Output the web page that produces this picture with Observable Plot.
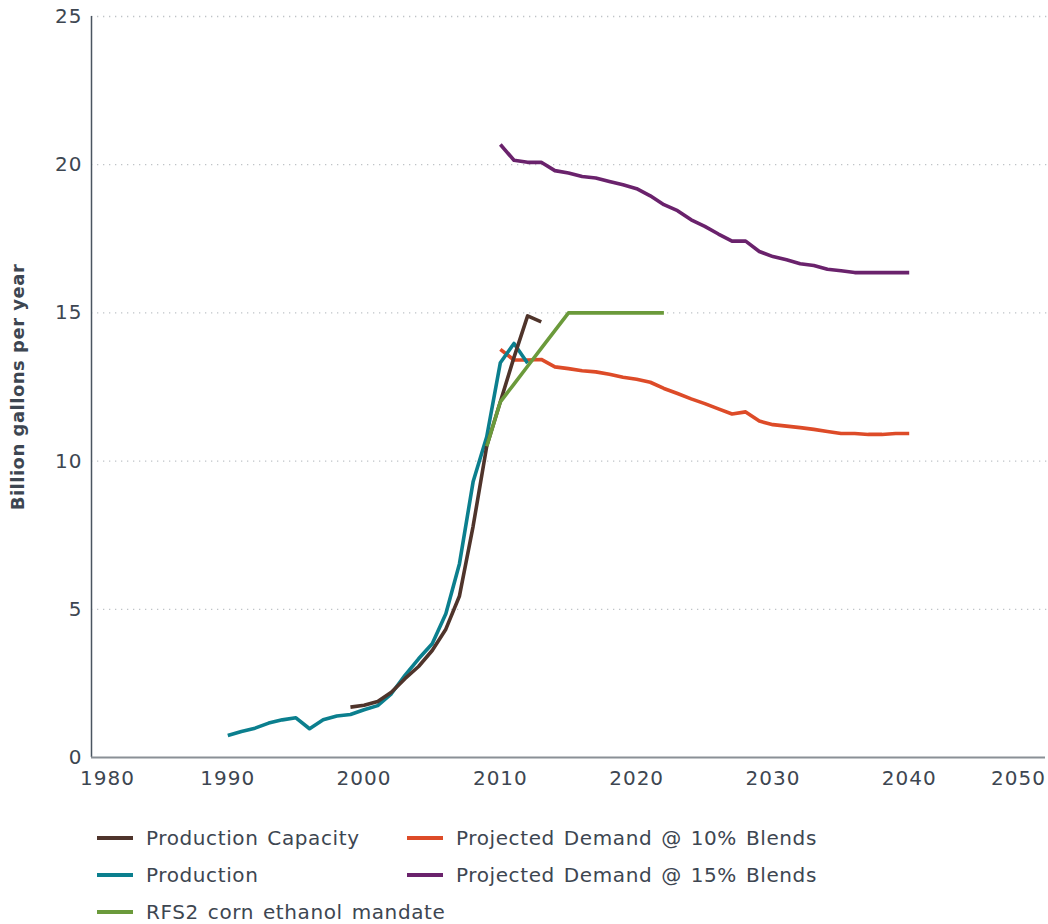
<!DOCTYPE html>
<html>
<head>
<meta charset="utf-8">
<script src="https://cdn.jsdelivr.net/npm/d3@7"></script>
<script src="https://cdn.jsdelivr.net/npm/@observablehq/plot@0.6"></script>
<style>
  body { margin: 0; background: #fff; font-family: "DejaVu Sans", sans-serif; color: #3d4651; }
  #chart svg { display: block; }
  .legend { display: grid; grid-template-columns: 310px 440px; row-gap: 12px; margin-left: 97px; margin-top: 25px; font-size: 20px; letter-spacing: 0.6px; word-spacing: 2px; color: #3d4651; }
  .item { display: flex; align-items: center; height: 25px; white-space: nowrap; }
  .sw { width: 36px; height: 4px; margin-right: 13px; flex: none; }
  .ylab text { letter-spacing: 0.5px; }
</style>
</head>
<body>
<div id="chart"></div>
<div class="legend" id="legend"></div>
<script>
const seriesNames = ["Production Capacity", "Production", "RFS2 corn ethanol mandate", "Projected Demand @ 10% Blends", "Projected Demand @ 15% Blends"];
const seriesColors = ["#4f342b", "#0b7f8e", "#6b9a3b", "#dd4b28", "#6a226c"];

const capacityYears = [1999,2000,2001,2002,2003,2004,2005,2006,2007,2008,2009,2010,2011,2012,2013];
const capacity = [1.70,1.76,1.89,2.20,2.66,3.07,3.61,4.33,5.45,7.8,10.5,12.0,13.5,14.9,14.7];

const productionYears = [1990,1991,1992,1993,1994,1995,1996,1997,1998,1999,2000,2001,2002,2003,2004,2005,2006,2007,2008,2009,2010,2011,2012];
const production = [0.74,0.88,0.99,1.16,1.27,1.34,0.97,1.27,1.40,1.45,1.61,1.75,2.15,2.77,3.33,3.84,4.85,6.54,9.3,10.82,13.32,13.97,13.3];

const rfsYears = [2009,2010,2011,2012,2013,2014,2015,2016,2017,2018,2019,2020,2021,2022];
const rfs = [10.5,12.0,12.6,13.2,13.8,14.4,15,15,15,15,15,15,15,15];

const demandYears = [2010,2011,2012,2013,2014,2015,2016,2017,2018,2019,2020,2021,2022,2023,2024,2025,2026,2027,2028,2029,2030,2031,2032,2033,2034,2035,2036,2037,2038,2039,2040];
const demand10 = [13.77,13.41,13.41,13.43,13.18,13.12,13.05,13.01,12.93,12.83,12.76,12.66,12.45,12.28,12.10,11.94,11.76,11.59,11.66,11.35,11.23,11.18,11.13,11.07,11.00,10.93,10.93,10.90,10.90,10.93,10.93];
const demand15 = [20.68,20.15,20.08,20.08,19.80,19.72,19.60,19.55,19.43,19.32,19.19,18.95,18.65,18.45,18.14,17.92,17.66,17.42,17.42,17.07,16.90,16.79,16.66,16.60,16.47,16.42,16.36,16.36,16.36,16.36,16.36];

const xTicks = [1980,1990,2000,2010,2020,2030,2040,2050];
const yTicks = [0,5,10,15,20,25];
const yLabel = "Billion gallons per year";

const toRows = (name, years, vals) => years.map((y, i) => ({series: name, year: y, value: vals[i]}));
const drawOrder = [
  toRows(seriesNames[4], demandYears, demand15),
  toRows(seriesNames[3], demandYears, demand10),
  toRows(seriesNames[1], productionYears, production),
  toRows(seriesNames[0], capacityYears, capacity),
  toRows(seriesNames[2], rfsYears, rfs)
];

const textColor = "#3d4651";
const lineMarks = drawOrder.map(rows => Plot.line(rows, {x: "year", y: "value", stroke: "series", strokeWidth: 3.6, strokeLinejoin: "round", strokeLinecap: "butt"}));
const tickFont = 20;
const xAxisOpts = {tickSize: 0, tickPadding: 13, label: null, tickFormat: d => String(d), fontSize: tickFont, fill: textColor};

const chart = Plot.plot({
  width: 1048,
  height: 800,
  marginLeft: 91,
  marginRight: 3,
  marginTop: 16,
  marginBottom: 43,
  style: {fontFamily: "DejaVu Sans, sans-serif", fontSize: "20px", color: textColor, background: "#fff", letterSpacing: "1px"},
  x: {domain: [1980, 2050]},
  y: {domain: [0, 25]},
  color: {domain: seriesNames, range: seriesColors},
  marks: [
    Plot.ruleY(yTicks.filter(d => d > 0), {stroke: "#bfc3c7", strokeWidth: 1.3, strokeDasharray: "1.3,4.7", x1: 1980, x2: 2050, insetRight: -3}),
    Plot.axisY(yTicks, {tickSize: 0, tickPadding: 9, label: null, fontSize: tickFont, fill: textColor}),
    Plot.axisX(xTicks.slice(1, -1), xAxisOpts),
    Plot.axisX([xTicks[0]], {...xAxisOpts, dx: 16}),
    Plot.axisX([xTicks[xTicks.length - 1]], {...xAxisOpts, dx: -27}),
    Plot.text([yLabel], {frameAnchor: "left", rotate: -90, dx: -73, fontSize: 18, fontWeight: "bold", fill: textColor, textAnchor: "middle", className: "ylab"}),
    Plot.ruleX([1980], {stroke: "#4a5560", strokeWidth: 1.5}),
    Plot.ruleY([0], {stroke: "#8a9096", strokeWidth: 2}),
    ...lineMarks
  ]
});
document.getElementById("chart").appendChild(chart);

const legendOrder = [0, 3, 1, 4, 2];
const legend = document.getElementById("legend");
legendOrder.forEach(i => {
  const item = document.createElement("div");
  item.className = "item";
  const sw = document.createElement("span");
  sw.className = "sw";
  sw.style.background = seriesColors[i];
  const t = document.createElement("span");
  t.textContent = seriesNames[i];
  item.appendChild(sw);
  item.appendChild(t);
  legend.appendChild(item);
});
</script>
</body>
</html>
